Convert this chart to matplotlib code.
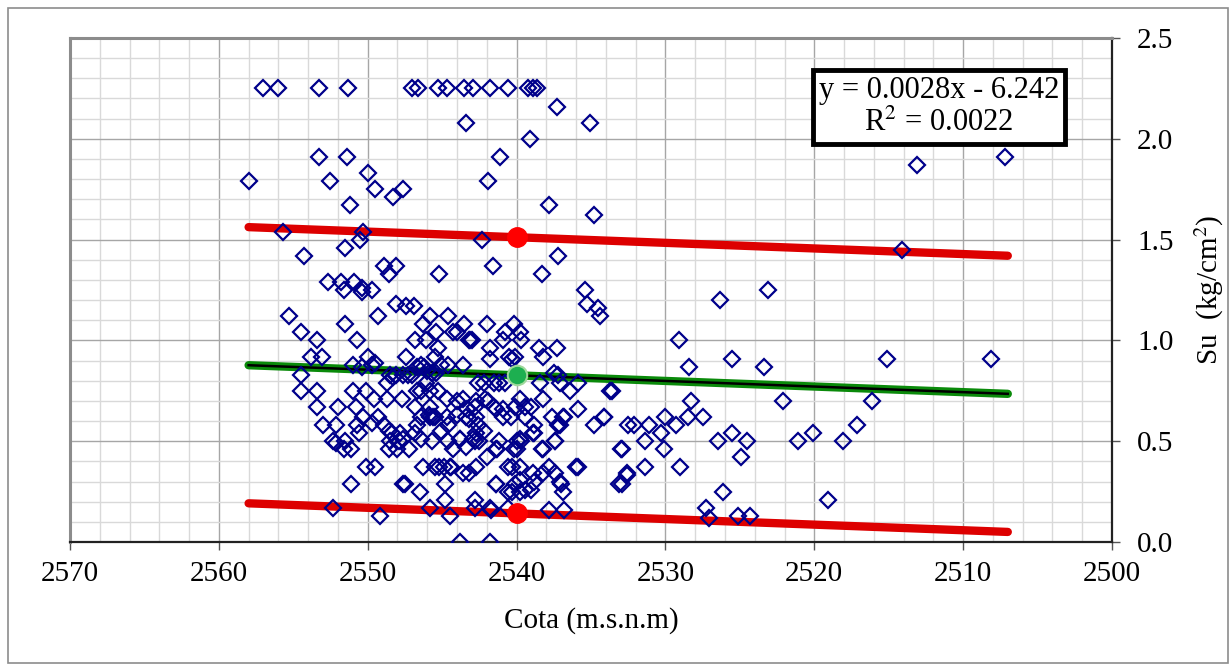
import numpy as np
import matplotlib
matplotlib.use("Agg")
import matplotlib.pyplot as plt
from matplotlib.ticker import MultipleLocator
from matplotlib.patches import Rectangle

plt.rcParams['font.family'] = ['Liberation Serif', 'DejaVu Serif']
plt.rcParams['mathtext.fontset'] = 'stix'

# ensayos: cota (m.s.n.m) y resistencia no drenada Su (kg/cm2)
cota = [
    2557.0, 2556.0, 2553.3, 2551.3, 2547.0, 2546.6, 2545.3, 2544.7, 2543.5, 2542.9, 2541.8, 2540.6,
    2539.2, 2538.9, 2538.6, 2537.3, 2543.4, 2535.1, 2539.1,
    2553.3, 2551.4, 2541.1, 2507.2, 2513.1, 2550.0,
    2558.0, 2552.5, 2541.9, 2549.5, 2547.6, 2548.3,
    2551.2, 2537.8, 2534.8, 2555.7, 2550.3, 2550.5,
    2542.3, 2551.5, 2514.1, 2554.3, 2537.2, 2541.6,
    2548.9, 2548.1, 2545.2, 2538.3, 2548.6, 2552.7,
    2551.8, 2550.9, 2551.6, 2550.4, 2550.4, 2549.7,
    2535.4, 2523.1, 2526.3, 2535.3, 2534.5, 2548.1,
    2547.4, 2546.9, 2555.3, 2549.3, 2545.8, 2544.6,
    2534.4, 2551.5, 2546.3, 2543.5, 2542.0, 2540.2,
    2554.5, 2545.4, 2544.3, 2544.0, 2540.8, 2539.8,
    2553.4, 2550.7, 2546.8, 2546.1, 2543.1, 2543.0,
    2543.2, 2540.9, 2539.7, 2529.1, 2545.3, 2541.8,
    2538.5, 2537.3, 2553.8, 2553.1, 2547.4, 2550.0,
    2541.8, 2540.5, 2540.3, 2540.1, 2538.2, 2545.5,
    2525.5, 2515.1, 2508.1, 2549.5, 2551.0, 2550.4,
    2549.7, 2544.6, 2543.6, 2528.4, 2523.4, 2545.1,
    2546.7, 2546.4, 2546.0, 2545.7, 2545.4, 2548.5,
    2548.1, 2547.6, 2554.5, 2542.6, 2542.2, 2541.5,
    2541.2, 2540.8, 2539.8, 2538.2, 2537.2, 2537.5,
    2538.4, 2537.1, 2536.4, 2535.9, 2533.7, 2534.1,
    2534.8, 2532.5, 2533.0, 2533.1, 2532.6, 2536.0,
    2535.9, 2536.9, 2537.6, 2537.1, 2537.4, 2538.3,
    2538.8, 2538.9, 2539.4, 2539.0, 2540.1, 2540.9,
    2541.9, 2541.5, 2542.1, 2542.7, 2543.6, 2544.0,
    2542.8, 2543.4, 2544.7, 2545.5, 2545.9, 2546.4,
    2546.8, 2545.8, 2544.7, 2545.3, 2545.8, 2546.7,
    2546.4, 2547.7, 2548.7, 2549.6, 2550.1, 2551.0,
    2552.0, 2550.8, 2553.4, 2553.4, 2554.5, 2553.0,
    2552.1, 2550.7, 2550.3, 2549.7, 2549.3, 2548.9,
    2548.6, 2550.6, 2552.3, 2552.1, 2551.5, 2551.6,
    2551.1, 2550.1, 2549.5, 2551.1, 2552.3, 2549.2,
    2548.4, 2547.8, 2548.5, 2547.9, 2548.6, 2548.0,
    2547.2, 2547.6, 2546.8, 2546.4, 2546.7, 2546.3,
    2545.5, 2545.2, 2544.9, 2544.5, 2544.4, 2543.6,
    2543.2, 2544.8, 2547.6, 2547.5, 2546.5, 2544.8,
    2545.8, 2544.5, 2542.8, 2542.8, 2541.8, 2541.7,
    2543.8, 2541.8, 2541.4, 2542.7, 2542.0, 2544.3,
    2543.8, 2543.4, 2542.9, 2542.7, 2542.2, 2541.3,
    2540.6, 2540.3, 2540.1, 2539.8, 2540.6, 2540.3,
    2539.8, 2539.4, 2539.0, 2538.8, 2539.8, 2540.0,
    2539.8, 2537.8, 2537.4, 2537.1, 2537.0, 2536.9,
    2537.8, 2536.8, 2538.2, 2538.9, 2540.6, 2541.4,
    2540.2, 2541.4, 2538.2, 2537.4, 2540.0, 2539.7,
    2541.2, 2542.8, 2542.5, 2544.6, 2543.8, 2545.7,
    2534.1, 2535.9, 2536.8, 2537.2, 2538.8, 2539.4,
    2540.4, 2540.9, 2541.4, 2542.6, 2542.7, 2543.2,
    2544.0, 2544.6, 2545.1, 2545.6, 2545.8, 2543.3,
    2548.7, 2547.0, 2546.2, 2546.1, 2548.3, 2547.3,
    2530.0, 2528.5, 2527.5, 2529.3, 2530.3, 2532.1,
    2531.1, 2531.4, 2532.9, 2530.1, 2526.5, 2525.5,
    2524.5, 2524.9, 2521.1, 2520.1, 2518.1, 2517.1,
    2531.4, 2529.0, 2532.6, 2532.9, 2526.1, 2519.1,
    2527.3, 2527.1, 2525.1, 2524.3, 2528.3, 2522.1,
    2516.1, 2533.6,
]
su = [
    2.25, 2.25, 2.25, 2.25, 2.25, 2.25, 2.25, 2.25, 2.25, 2.25, 2.25, 2.25,
    2.25, 2.25, 2.25, 2.16, 2.08, 2.08, 2.00,
    1.91, 1.91, 1.91, 1.91, 1.87, 1.83,
    1.79, 1.79, 1.79, 1.75, 1.75, 1.71,
    1.67, 1.67, 1.62, 1.54, 1.54, 1.50,
    1.50, 1.46, 1.45, 1.42, 1.42, 1.37,
    1.37, 1.37, 1.33, 1.33, 1.33, 1.29,
    1.29, 1.29, 1.25, 1.26, 1.24, 1.25,
    1.25, 1.25, 1.20, 1.18, 1.16, 1.18,
    1.17, 1.17, 1.12, 1.12, 1.12, 1.12,
    1.12, 1.08, 1.08, 1.08, 1.08, 1.08,
    1.04, 1.04, 1.04, 1.04, 1.04, 1.04,
    1.00, 1.00, 1.00, 1.00, 1.00, 1.00,
    1.00, 1.00, 1.00, 1.00, 0.96, 0.96,
    0.96, 0.96, 0.92, 0.92, 0.92, 0.92,
    0.91, 0.92, 0.91, 0.92, 0.92, 0.92,
    0.91, 0.91, 0.91, 0.89, 0.88, 0.87,
    0.88, 0.88, 0.88, 0.87, 0.87, 0.88,
    0.87, 0.88, 0.85, 0.84, 0.84, 0.83,
    0.83, 0.83, 0.83, 0.79, 0.79, 0.79,
    0.79, 0.79, 0.71, 0.71, 0.83, 0.84,
    0.79, 0.79, 0.75, 0.79, 0.75, 0.62,
    0.58, 0.58, 0.46, 0.29, 0.34, 0.37,
    0.37, 0.62, 0.62, 0.58, 0.50, 0.46,
    0.58, 0.54, 0.62, 0.67, 0.67, 0.62,
    0.70, 0.67, 0.71, 0.70, 0.71, 0.70,
    0.67, 0.62, 0.62, 0.62, 0.63, 0.62,
    0.67, 0.67, 0.71, 0.75, 0.75, 0.75,
    0.75, 0.71, 0.71, 0.71, 0.75, 0.75,
    0.67, 0.67, 0.67, 0.75, 0.75, 0.58,
    0.58, 0.58, 0.62, 0.59, 0.62, 0.58,
    0.55, 0.54, 0.50, 0.49, 0.50, 0.46,
    0.46, 0.37, 0.37, 0.29, 0.17, 0.13,
    0.54, 0.54, 0.50, 0.50, 0.46, 0.46,
    0.46, 0.51, 0.54, 0.51, 0.58, 0.37,
    0.37, 0.37, 0.37, 0.37, 0.37, 0.34,
    0.34, 0.29, 0.29, 0.29, 0.25, 0.21,
    0.17, 0.13, 0.21, 0.17, 0.17, 0.16,
    0.00, 0.00, 0.29, 0.37, 0.42, 0.46,
    0.51, 0.47, 0.51, 0.54, 0.55, 0.46,
    0.37, 0.37, 0.29, 0.31, 0.25, 0.25,
    0.25, 0.26, 0.26, 0.30, 0.37, 0.46,
    0.51, 0.37, 0.34, 0.30, 0.29, 0.25,
    0.16, 0.16, 0.34, 0.34, 0.17, 0.29,
    0.46, 0.46, 0.46, 0.50, 0.50, 0.50,
    0.50, 0.50, 0.50, 0.50, 0.51, 0.50,
    0.62, 0.66, 0.62, 0.58, 0.54, 0.67,
    0.62, 0.66, 0.66, 0.58, 0.62, 0.61,
    0.63, 0.58, 0.55, 0.62, 0.62, 0.66,
    0.79, 0.83, 0.87, 0.79, 0.82, 0.83,
    0.62, 0.62, 0.62, 0.58, 0.54, 0.58,
    0.58, 0.50, 0.46, 0.46, 0.50, 0.54,
    0.50, 0.42, 0.50, 0.54, 0.50, 0.58,
    0.37, 0.37, 0.33, 0.29, 0.25, 0.21,
    0.17, 0.12, 0.13, 0.13, 0.70, 0.70,
    0.70, 0.75,
]

# recta de tendencia y banda de +/- una desviacion
pendiente = 0.002783
intercepto = -6.242
banda = 0.685
cota_ext = [2558.0, 2507.0]
cota_ref = 2540.0

cota = np.array(cota)
su = np.array(su)
xl = np.array(cota_ext)
tend = pendiente * xl + intercepto
su_ref = pendiente * cota_ref + intercepto

fig = plt.figure(figsize=(12.32, 6.67), dpi=100)
ax = fig.add_axes([0.0568, 0.1874, 0.8458, 0.7556])

ax.plot(xl, tend + banda, color='#DD0000', lw=6, solid_capstyle='round', zorder=3)
ax.plot(xl, tend - banda, color='#DD0000', lw=6, solid_capstyle='round', zorder=3)
ax.plot(xl, tend, color='#0A8A0A', lw=6, solid_capstyle='round', zorder=3)
ax.plot(xl, tend, color='black', lw=1.8, zorder=3)

ax.plot(cota, su, ls='none', marker='D', ms=8.5, mfc='none', mec='#00008B',
        mew=1.6, zorder=4)

ax.plot([cota_ref, cota_ref], [su_ref + banda, su_ref - banda], ls='none',
        marker='o', ms=14, color='#FF0000', zorder=5)
ax.plot([cota_ref], [su_ref], ls='none', marker='o', ms=14, mfc='#1DAF50',
        mec='#9ED89A', mew=1.5, zorder=5)

ax.set_xlim(2570, 2500)
ax.set_ylim(0, 2.5)
ax.xaxis.set_major_locator(MultipleLocator(10))
ax.xaxis.set_minor_locator(MultipleLocator(2))
ax.yaxis.set_major_locator(MultipleLocator(0.5))
ax.yaxis.set_minor_locator(MultipleLocator(0.1))
ax.yaxis.set_major_formatter(matplotlib.ticker.FormatStrFormatter('%.1f'))
ax.grid(which='major', color='#A6A6A6', lw=1.0, zorder=0)
ax.grid(which='minor', color='#D9D9D9', lw=1.0, zorder=0)
ax.set_axisbelow(True)

ax.yaxis.tick_right()
ax.yaxis.set_label_position('right')
ax.tick_params(which='major', direction='out', length=6, width=1, labelsize=21,
               color='#555555')
ax.tick_params(axis='x', pad=8)
ax.tick_params(axis='y', pad=12)
ax.tick_params(which='minor', length=0)

for s in ('left', 'top'):
    ax.spines[s].set_color('#8C8C8C')
    ax.spines[s].set_linewidth(2.2)
for s in ('bottom', 'right'):
    ax.spines[s].set_color('#222222')
    ax.spines[s].set_linewidth(1.6)

ax.set_xlabel('Cota (m.s.n.m)', fontsize=21, labelpad=14)
ax.set_ylabel('Su  (kg/cm$^2$)', fontsize=21, labelpad=14)

ax.text(0.834, 0.863, 'y = 0.0028x - 6.242\nR$^2$ = 0.0022', transform=ax.transAxes,
        ha='center', va='center', fontsize=22, linespacing=1.2, zorder=6,
        bbox=dict(boxstyle='square,pad=0.2', fc='white', ec='black', lw=3.5))

fig.patches.append(Rectangle((8 / 1232, 4 / 667), 1220 / 1232, 655 / 667,
                             transform=fig.transFigure, fill=False,
                             ec='#8C8C8C', lw=1.2))

fig.savefig('out.png', dpi=100)
